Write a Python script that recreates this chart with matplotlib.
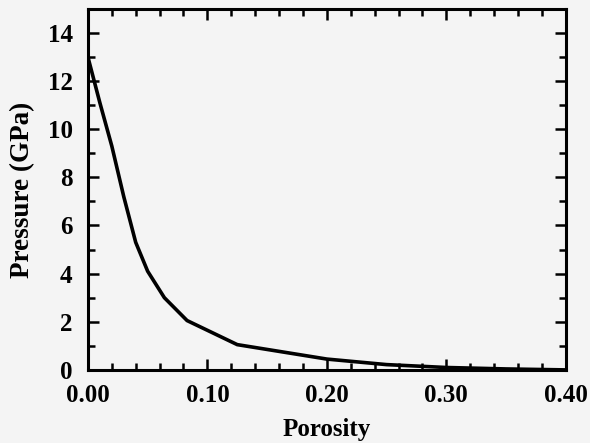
import matplotlib
matplotlib.use("Agg")
import matplotlib.pyplot as plt
from matplotlib.ticker import MultipleLocator, FormatStrFormatter

porosity = [0.0, 0.01, 0.02, 0.03, 0.04, 0.05, 0.064, 0.083, 0.125, 0.2, 0.25, 0.3, 0.35, 0.4]
pressure = [13.0, 11.1, 9.3, 7.2, 5.3, 4.1, 3.0, 2.05, 1.05, 0.45, 0.22, 0.1, 0.04, 0.0]

plt.rcParams['font.family'] = ['Liberation Serif', 'DejaVu Serif']
plt.rcParams['font.weight'] = 'bold'

bg = '#f4f4f4'
fig = plt.figure(figsize=(5.9, 4.43), dpi=100, facecolor=bg)
ax = fig.add_axes([0.149, 0.165, 0.810, 0.815], facecolor=bg)

ax.plot(porosity, pressure, color='black', lw=2.6, solid_joinstyle='miter')

ax.set_xlim(0, 0.40)
ax.set_ylim(0, 15)
ax.xaxis.set_major_locator(MultipleLocator(0.1))
ax.xaxis.set_minor_locator(MultipleLocator(0.02))
ax.xaxis.set_major_formatter(FormatStrFormatter('%.2f'))
ax.yaxis.set_minor_locator(MultipleLocator(1))
ax.set_yticks(range(0, 15, 2))

ax.tick_params(which='both', direction='in', top=True, right=True, width=1.8, colors='black')
ax.tick_params(which='major', length=8, labelsize=18)
ax.tick_params(axis='x', which='major', pad=10)
ax.tick_params(axis='y', which='major', pad=11)
ax.tick_params(which='minor', length=5)
for lab in ax.get_xticklabels() + ax.get_yticklabels():
    lab.set_fontweight('bold')
for s in ax.spines.values():
    s.set_linewidth(2.2)

ax.set_xlabel('Porosity', fontsize=18, fontweight='bold', labelpad=8)
ax.set_ylabel('Pressure (GPa)', fontsize=19.5, fontweight='bold', labelpad=9)

fig.savefig('out.png', dpi=100, facecolor=bg)
